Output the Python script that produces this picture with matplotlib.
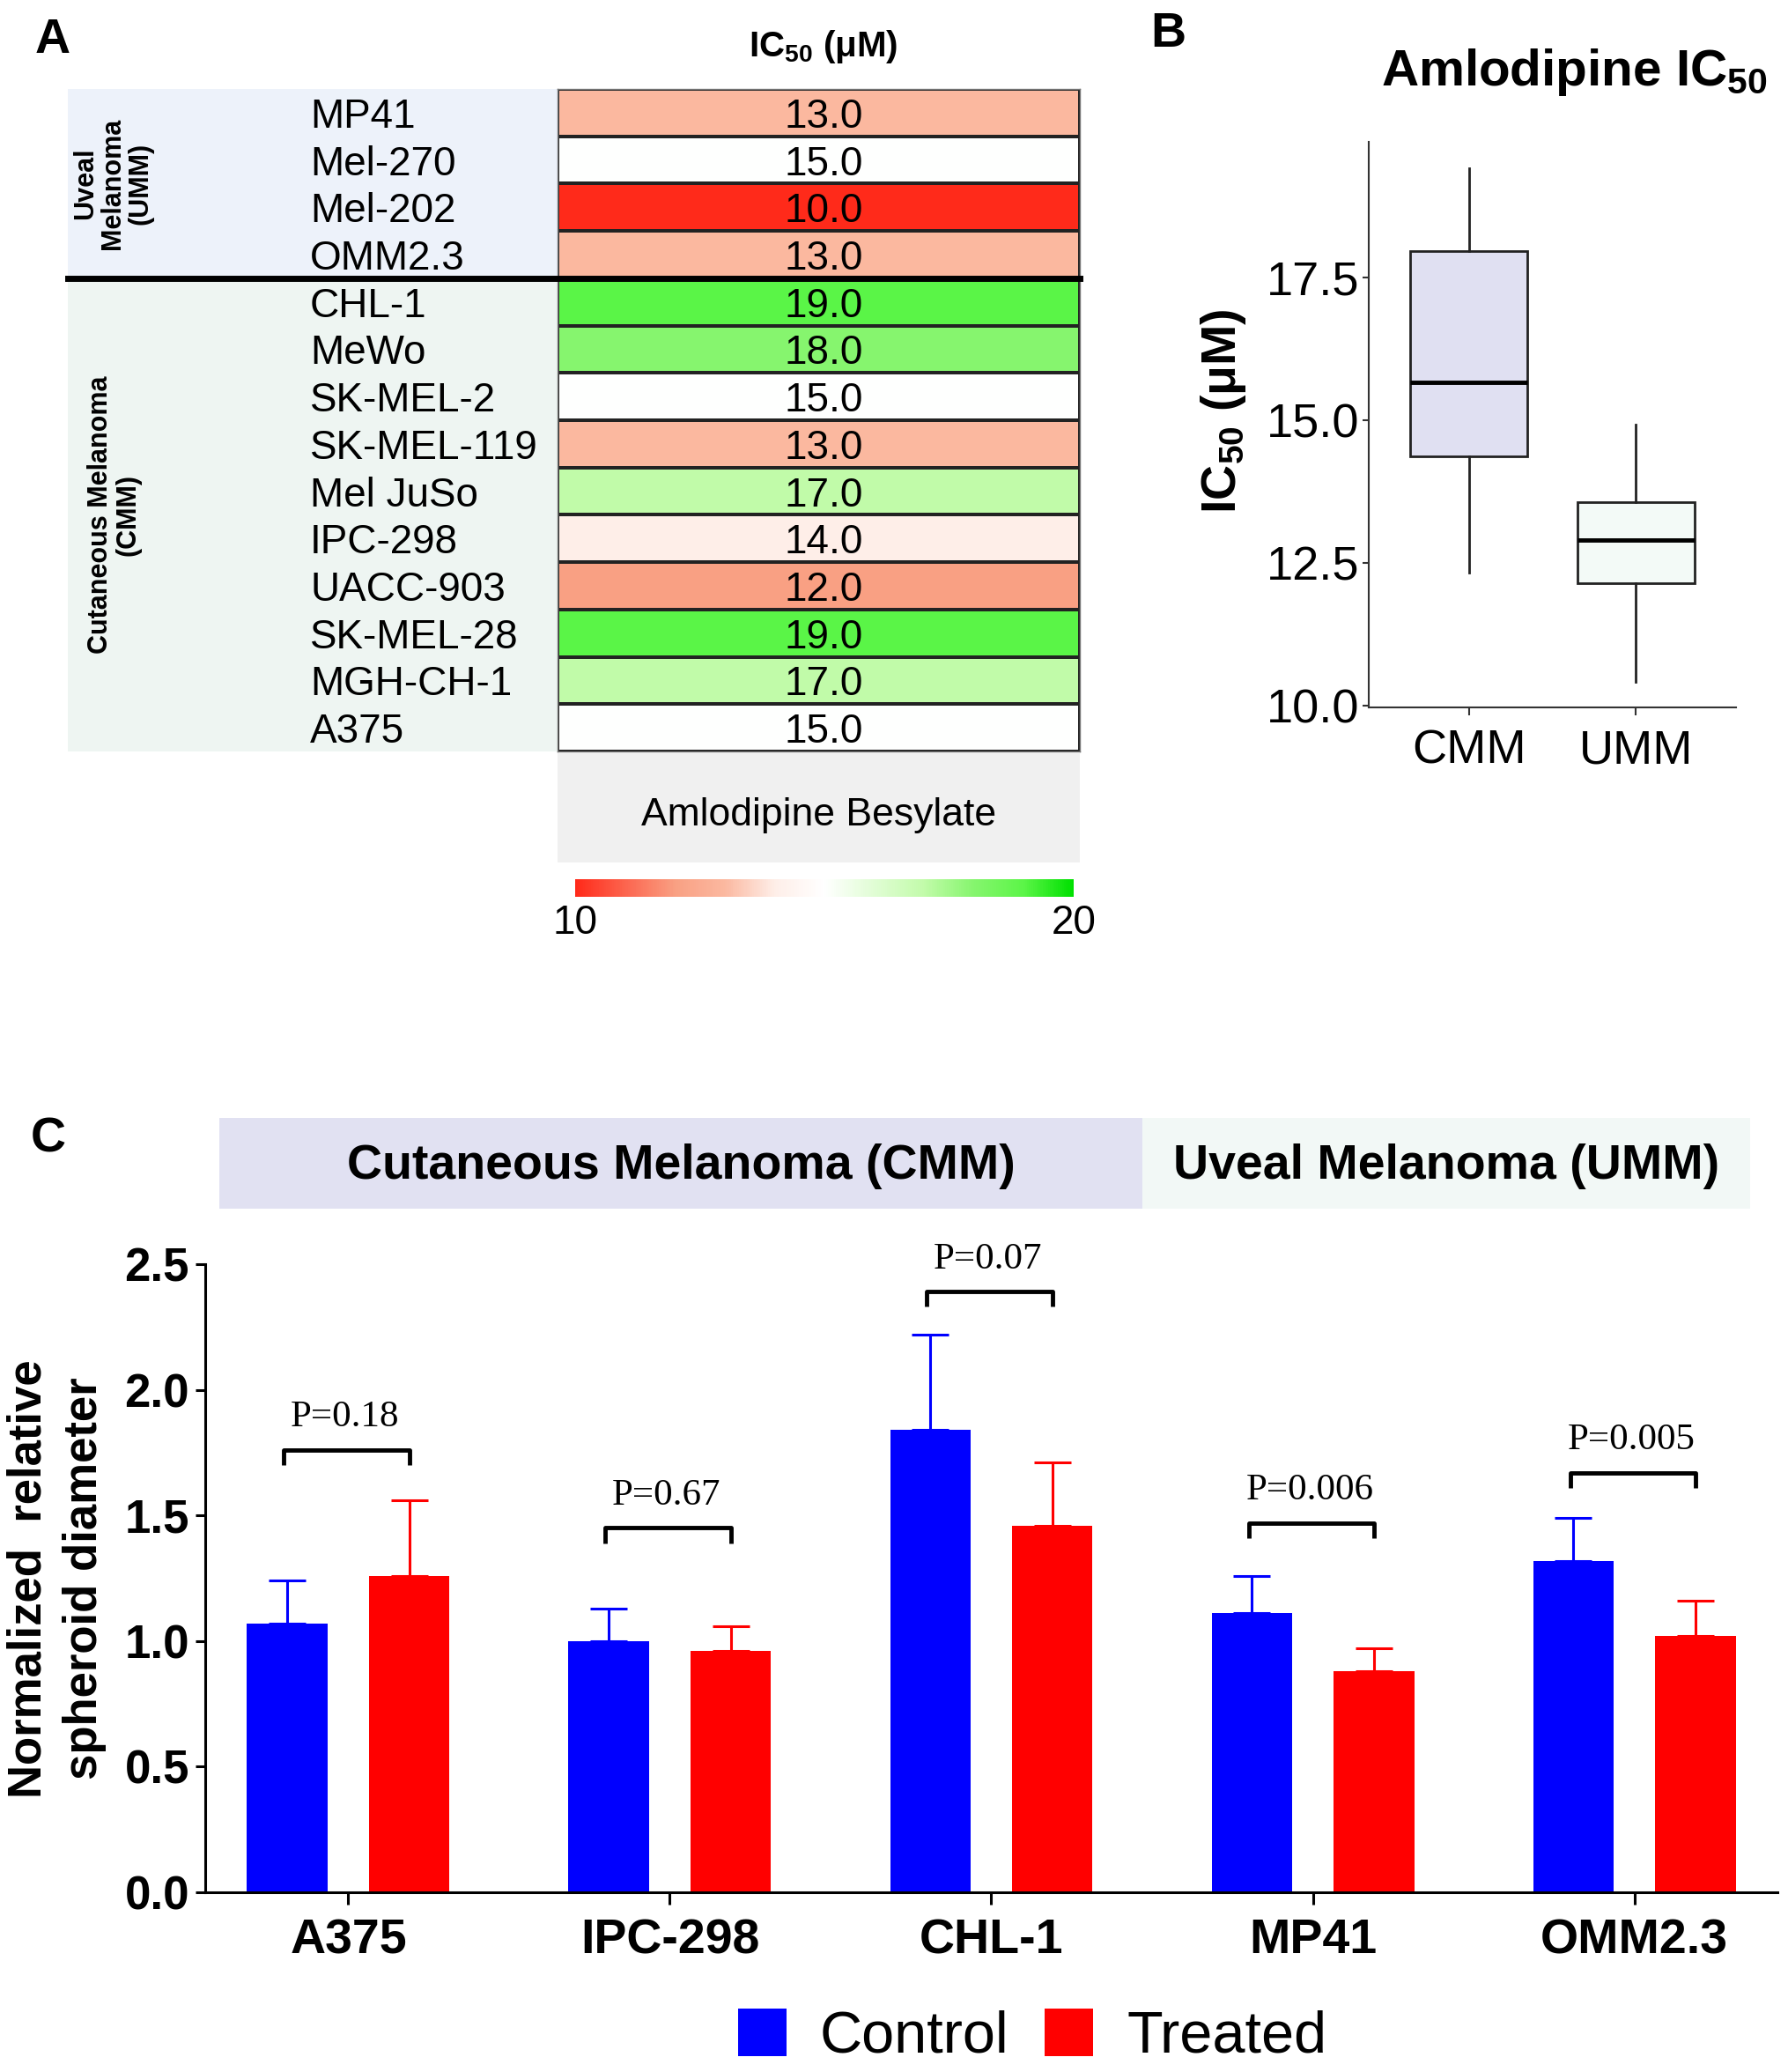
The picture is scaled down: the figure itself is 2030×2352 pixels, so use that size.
import numpy as np
import matplotlib.pyplot as plt
from matplotlib.colors import LinearSegmentedColormap, Normalize
from matplotlib.cm import ScalarMappable
from matplotlib.patches import Rectangle
from matplotlib.transforms import blended_transform_factory

plt.rcParams['font.family'] = ['Liberation Sans', 'DejaVu Sans']
plt.rcParams['mathtext.fontset'] = 'custom'
plt.rcParams['mathtext.rm'] = 'Liberation Sans'
plt.rcParams['mathtext.bf'] = 'Liberation Sans:bold'

# ---- dados painel A (heatmap IC50)
cell_lines = ["MP41", "Mel-270", "Mel-202", "OMM2.3", "CHL-1", "MeWo", "SK-MEL-2",
              "SK-MEL-119", "Mel JuSo", "IPC-298", "UACC-903", "SK-MEL-28", "MGH-CH-1", "A375"]
ic50 = [13.0, 15.0, 10.0, 13.0, 19.0, 18.0, 15.0, 13.0, 17.0, 14.0, 12.0, 19.0, 17.0, 15.0]
n_umm = 4
drug = "Amlodipine Besylate"

# ---- dados painel B (boxplot)
box_groups = ["CMM", "UMM"]
box_whislo = [12.33, 10.42]
box_q1 = [14.37, 12.14]
box_med = [15.66, 12.90]
box_q3 = [17.96, 13.56]
box_whishi = [19.41, 14.92]

# ---- dados painel C (barras)
spheroid_lines = ["A375", "IPC-298", "CHL-1", "MP41", "OMM2.3"]
control_mean = [1.07, 1.00, 1.84, 1.11, 1.32]
control_err = [0.17, 0.13, 0.38, 0.15, 0.17]
treated_mean = [1.26, 0.96, 1.46, 0.88, 1.02]
treated_err = [0.30, 0.10, 0.25, 0.09, 0.14]
p_values = ["P=0.18", "P=0.67", "P=0.07", "P=0.006", "P=0.005"]
bracket_y = [1.76, 1.45, 2.39, 1.47, 1.67]

W, H = 2031, 2352
fig = plt.figure(figsize=(W / 100, H / 100), dpi=100)


def px_axes(x0, y0, x1, y1):
    # caixa em pixels (origem no canto superior esquerdo)
    return fig.add_axes([x0 / W, 1 - y1 / H, (x1 - x0) / W, (y1 - y0) / H])


def fx(x):
    return x / W


def fy(y):
    return 1 - y / H


# ================= Painel A
cmap = LinearSegmentedColormap.from_list("rwg", [
    (0.0, "#FF2A1A"), (0.2, "#F9A083"), (0.3, "#FBB8A0"), (0.4, "#FEEEE8"),
    (0.5, "#FFFFFF"), (0.7, "#C2FBAA"), (0.8, "#86F56E"), (0.9, "#5CF548"),
    (1.0, "#00E000")])
norm = Normalize(10, 20)

ax_h = px_axes(633, 101, 1226, 853)
n = len(cell_lines)
ax_h.pcolormesh([0, 1], np.arange(n + 1) - 0.5, np.array(ic50).reshape(-1, 1),
                cmap=cmap, norm=norm, edgecolors="#222222", linewidth=1.5)
ax_h.set_xlim(0, 1)
ax_h.set_ylim(n - 0.5, -0.5)
ax_h.set_xticks([])
ax_h.set_yticks([])
for s in ax_h.spines.values():
    s.set_color("#777777")
    s.set_linewidth(1)

for i, v in enumerate(ic50):
    ax_h.text(0.51, i, f"{v:.1f}", ha="center", va="center_baseline", fontsize=33)

lab_tr = blended_transform_factory(fig.transFigure, ax_h.transData)
for i, name in enumerate(cell_lines):
    ax_h.text(fx(352), i, name, transform=lab_tr, ha="left", va="center_baseline", fontsize=33)

grp_tr = blended_transform_factory(ax_h.transAxes, ax_h.transData)
x_left = (77 - 633) / 593
ax_h.add_patch(Rectangle((x_left, -0.5), -x_left, n_umm, transform=grp_tr,
                         facecolor="#EDF2FA", edgecolor="none", clip_on=False, zorder=0))
ax_h.add_patch(Rectangle((x_left, n_umm - 0.5), -x_left, n - n_umm, transform=grp_tr,
                         facecolor="#EEF5F2", edgecolor="none", clip_on=False, zorder=0))
ax_h.plot([x_left, 1], [n_umm - 0.5, n_umm - 0.5], transform=grp_tr, color="black",
          lw=5, clip_on=False, zorder=5)
ax_h.text((128 - 633) / 593, (n_umm - 1) / 2, "Uveal\nMelanoma\n(UMM)", transform=grp_tr,
          rotation=90, ha="center", va="center", fontsize=22, fontweight="bold",
          multialignment="center", linespacing=1.05)
ax_h.text((130 - 633) / 593, (n_umm + n - 1) / 2, "Cutaneous Melanoma\n(CMM)", transform=grp_tr,
          rotation=90, ha="center", va="center", fontsize=22, fontweight="bold",
          multialignment="center", linespacing=1.05)

fig.text(fx(935), fy(53), r"IC$_\mathbf{50}$ (μM)", ha="center", va="center",
         fontsize=29, fontweight="bold")

ax_d = px_axes(633, 855, 1226, 979)
ax_d.set_facecolor("#F0F0F0")
ax_d.set_xticks([])
ax_d.set_yticks([])
for s in ax_d.spines.values():
    s.set_visible(False)
ax_d.text(0.5, 0.43, drug, ha="center", va="center", fontsize=32)

ax_cb = px_axes(653, 998, 1219, 1018)
cb = fig.colorbar(ScalarMappable(norm=norm, cmap=cmap), cax=ax_cb,
                  orientation="horizontal", ticks=[10, 20])
cb.outline.set_visible(False)
ax_cb.tick_params(length=0, labelsize=33, pad=6)

fig.text(fx(60), fy(46), "A", ha="center", va="center", fontsize=40, fontweight="bold")

# ================= Painel B
ax_b = px_axes(1554, 161, 1971, 803)
stats = []
for k in range(len(box_groups)):
    stats.append(dict(label=box_groups[k], whislo=box_whislo[k], q1=box_q1[k],
                      med=box_med[k], q3=box_q3[k], whishi=box_whishi[k], fliers=[]))
bp = ax_b.bxp(stats, positions=[1, 2], widths=0.7, patch_artist=True, showcaps=False,
              boxprops=dict(linewidth=2, edgecolor="#222222"),
              medianprops=dict(color="black", linewidth=3.5),
              whiskerprops=dict(linewidth=2, color="#222222"))
for patch, c in zip(bp["boxes"], ["#E0E0F2", "#F3FAF7"]):
    patch.set_facecolor(c)
ax_b.set_xlim(0.4, 2.6)
ax_b.set_ylim(9.97, 19.88)
ax_b.set_yticks([10, 12.5, 15, 17.5])
ax_b.set_yticklabels(["10.0", "12.5", "15.0", "17.5"])
ax_b.spines["top"].set_visible(False)
ax_b.spines["right"].set_visible(False)
for s in ["left", "bottom"]:
    ax_b.spines[s].set_linewidth(1.5)
    ax_b.spines[s].set_color("#333333")
ax_b.tick_params(axis="y", labelsize=39, length=5, width=1.5, pad=3, color="#333333")
ax_b.tick_params(axis="x", labelsize=39, length=6.5, width=1.5, pad=11, color="#333333")

fig.text(fx(1389), fy(467), r"IC$_\mathbf{50}$ (μM)", rotation=90, ha="center", va="center",
         fontsize=40, fontweight="bold")
fig.text(fx(1787), fy(82), r"Amlodipine IC$_\mathbf{50}$", ha="center", va="center",
         fontsize=42, fontweight="bold")
fig.text(fx(1326), fy(39), "B", ha="center", va="center", fontsize=40, fontweight="bold")

# ================= Painel C
ax_c = px_axes(233, 1435, 2018, 2148)
x = np.arange(len(spheroid_lines))
zeros = np.zeros(len(x))
ax_c.bar(x - 0.19, control_mean, 0.25, color="#0000FF", label="Control",
         yerr=[zeros, control_err],
         error_kw=dict(ecolor="#0000FF", elinewidth=2.2, capsize=15, capthick=2.2))
ax_c.bar(x + 0.19, treated_mean, 0.25, color="#FF0000", label="Treated",
         yerr=[zeros, treated_err],
         error_kw=dict(ecolor="#FF0000", elinewidth=2.2, capsize=15, capthick=2.2))

for i in range(len(x)):
    yb = bracket_y[i]
    ax_c.plot([i - 0.2, i - 0.2, i + 0.19, i + 0.19], [yb - 0.06, yb, yb, yb - 0.06],
              color="black", lw=3.5, clip_on=False, solid_capstyle="butt")
    ax_c.text(i - 0.01, yb + 0.13, p_values[i], ha="center", va="center", fontsize=31,
              family="Liberation Serif", clip_on=False)

ax_c.set_xlim(-0.445, 4.445)
ax_c.set_ylim(0, 2.5)
ax_c.set_yticks([0, 0.5, 1.0, 1.5, 2.0, 2.5])
ax_c.set_yticklabels(["0.0", "0.5", "1.0", "1.5", "2.0", "2.5"], fontweight="bold")
ax_c.set_xticks(x)
ax_c.set_xticklabels(spheroid_lines, fontweight="bold")
ax_c.spines["top"].set_visible(False)
ax_c.spines["right"].set_visible(False)
for s in ["left", "bottom"]:
    ax_c.spines[s].set_linewidth(2.2)
ax_c.tick_params(axis="y", labelsize=38, length=8, width=2.2, pad=5)
ax_c.tick_params(axis="x", labelsize=40, length=10, width=2.2, pad=11)

fig.text(fx(33), fy(1792), "Normalized  relative", rotation=90, ha="center", va="center",
         fontsize=38, fontweight="bold")
fig.text(fx(96), fy(1792), "spheroid diameter", rotation=90, ha="center", va="center",
         fontsize=38, fontweight="bold")

# faixas de cabeçalho
ax_top = px_axes(233, 1269, 2018, 1372)
ax_top.set_xlim(-0.445, 4.445)
ax_top.set_ylim(0, 1)
ax_top.axvspan(-0.4, 2.47, color="#E1E1F2", lw=0)
ax_top.axvspan(2.47, 4.36, color="#F2F8F6", lw=0)
ax_top.text(1.035, 0.47, "Cutaneous Melanoma (CMM)", ha="center", va="center",
            fontsize=40, fontweight="bold")
ax_top.text(3.415, 0.47, "Uveal Melanoma (UMM)", ha="center", va="center",
            fontsize=40, fontweight="bold")
ax_top.axis("off")

fig.text(fx(55), fy(1293), "C", ha="center", va="center", fontsize=40, fontweight="bold")

fig.legend(loc="center", bbox_to_anchor=(fx(1172), fy(2312)), ncol=2, frameon=False,
           fontsize=48, handlelength=0.83, handleheight=0.86, handletextpad=0.57,
           columnspacing=0.6, borderaxespad=0)

fig.savefig("out.png", dpi=100)
